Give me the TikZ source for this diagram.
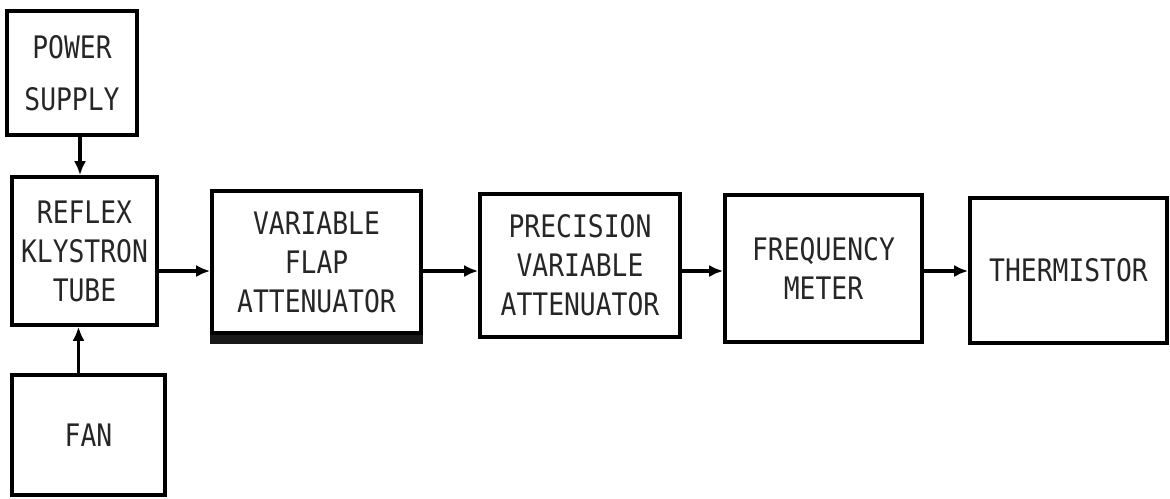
\documentclass[tikz,border=0pt]{standalone}
\usepackage{fontspec}
\usepackage{tikz}
\usetikzlibrary{arrows.meta,calc}
\newfontfamily\typer[FakeStretch=0.85]{DejaVu Sans Mono}
\tikzset{
    unit/.style={draw=black,line width=3.6pt,inner sep=0pt,align=center,
        font=\typer\fontsize{31}{39}\selectfont,text=black!85},
    sig/.style={-{Latex[length=14pt,width=12pt]},line width=3.4pt,black},
    shadow/.style={black!90,line width=9pt}
}
\begin{document}
\begin{tikzpicture}[x=1pt,y=-1pt]
\useasboundingbox (0,0) rectangle (1170,498);
% left column
\node[unit,minimum width=130,minimum height=124,
      font=\typer\fontsize{31}{52}\selectfont](pwr) at (72,73){POWER\\SUPPLY};
\node[unit,minimum width=145,minimum height=148](refl) at (84.5,251){REFLEX\\KLYSTRON\\TUBE};
\node[unit,minimum width=153,minimum height=120](fan) at (88.5,435){FAN};
% main line
\node[unit,minimum width=209,minimum height=142](flap) at (316.5,262){VARIABLE\\FLAP\\ATTENUATOR};
\node[unit,minimum width=200,minimum height=143](prec) at (580,265.5){PRECISION\\VARIABLE\\ATTENUATOR};
\node[unit,minimum width=197,minimum height=147](freq) at (823.5,268.5){FREQUENCY\\METER};
\node[unit,minimum width=197,minimum height=145](therm) at (1068.5,270.5){THERMISTOR};
\draw[shadow]($(flap.south west)+(0,5)$)--($(flap.south east)+(0,5)$);

\coordinate (bus) at (0,271);
\draw[sig]([xshift=8pt]pwr.south)--([xshift=8pt]pwr.south |- refl.north);
\draw[sig]([xshift=-10pt]fan.north)--([xshift=-10pt]fan.north |- refl.south);
\draw[sig](refl.east |- bus)--(flap.west |- bus);
\draw[sig](flap.east |- bus)--(prec.west |- bus);
\draw[sig](prec.east |- bus)--(freq.west |- bus);
\draw[sig](freq.east |- bus)--(therm.west |- bus);
\end{tikzpicture}
\end{document}
